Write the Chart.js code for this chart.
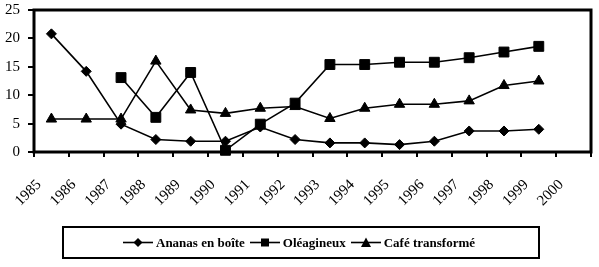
<!DOCTYPE html>
<html>
<head>
<meta charset="utf-8">
<script src="https://cdn.jsdelivr.net/npm/chart.js@4"></script>
<style>
  body { margin: 0; background: #fff; }
  #wrap { position: relative; width: 599px; height: 267px; }
  #legende {
    position: absolute; left: 62px; top: 226px; width: 415px; height: 29px;
    border: 2px solid #000; display: flex; align-items: center; justify-content: flex-start;
    font: bold 13px 'Liberation Serif', serif; color: #000; padding-left: 59px; box-sizing: content-box;
  }
  #legende span { display: inline-flex; align-items: center; margin-right: 5px; }
  #legende svg { margin-right: 3px; }
</style>
</head>
<body>
<div id="wrap">
  <canvas id="graphique" width="599" height="267"></canvas>
  <div id="legende"></div>
</div>
<script>
// années affichées sous l'axe (graduations)
const annees = ['1985', '1986', '1987', '1988', '1989', '1990', '1991', '1992', '1993', '1994', '1995', '1996', '1997', '1998', '1999', '2000']

// valeurs, une par année 1985..1999
const ananas = [20.8, 14.2, 4.9, 2.2, 1.9, 1.9, 4.4, 2.2, 1.6, 1.6, 1.3, 1.9, 3.7, 3.7, 4.0]
const oleagineux = [null, null, 13.1, 6.1, 14.0, 0.3, 4.9, 8.6, 15.4, 15.4, 15.8, 15.8, 16.6, 17.6, 18.6]
const cafe = [5.8, 5.8, 5.8, 16.0, 7.4, 6.8, 7.7, 8.0, 5.9, 7.7, 8.4, 8.4, 9.0, 11.7, 12.5]

const police = "'Liberation Serif', 'Times New Roman', serif"

// chaque point se place au milieu de l'intervalle de son année
const enPoints = serie => serie.map((v, i) => ({ x: i + 0.5, y: v }))

const serie = (label, valeurs, style, rayon) => ({
  label,
  data: enPoints(valeurs),
  borderColor: '#000',
  backgroundColor: '#000',
  borderWidth: 1.6,
  pointStyle: style,
  pointRadius: rayon,
  pointBorderWidth: 1,
  tension: 0,
  spanGaps: false,
  clip: false,
})

// cadre noir autour de la zone de tracé
const cadre = {
  id: 'cadre',
  beforeDatasetsDraw(chart) {
    const { ctx, chartArea: a } = chart
    ctx.save()
    ctx.strokeStyle = '#000'
    ctx.lineWidth = 3
    ctx.strokeRect(a.left, a.top, a.right - a.left, a.bottom - a.top)
    ctx.restore()
  },
}

new Chart(document.getElementById('graphique').getContext('2d'), {
  type: 'line',
  data: {
    datasets: [
      serie('Ananas en boîte', ananas, 'rectRot', 5),
      serie('Oléagineux', oleagineux, 'rect', 7),
      serie('Café transformé', cafe, 'triangle', 6),
    ],
  },
  options: {
    responsive: false,
    animation: false,
    layout: { padding: { left: 0, right: 6, top: 10, bottom: 50 } },
    plugins: { legend: { display: false }, tooltip: { enabled: false } },
    scales: {
      x: {
        type: 'linear',
        min: 0,
        max: 16,
        // hauteur fixe, assez grande pour ne pas couper les années inclinées
        afterFit: s => { s.height = 65; s.paddingLeft = 0; s.paddingRight = 0 },
        border: { display: false },
        grid: { drawOnChartArea: false, drawTicks: true, tickLength: 5, color: '#000', lineWidth: 2 },
        ticks: {
          stepSize: 1,
          autoSkip: false,
          maxRotation: 45,
          minRotation: 45,
          padding: 19,
          labelOffset: 5,
          color: '#000',
          font: { family: police, size: 15 },
          callback: v => annees[v] || '',
        },
      },
      y: {
        min: 0,
        max: 25,
        afterFit: s => { s.width = 34; s.paddingTop = 0; s.paddingBottom = 0 },
        border: { display: false },
        grid: { drawOnChartArea: false, drawTicks: true, tickLength: 6, color: '#000', lineWidth: 2 },
        ticks: {
          stepSize: 5,
          padding: 8,
          color: '#000',
          font: { family: police, size: 15 },
        },
      },
    },
  },
  plugins: [cadre],
})

// légende : trait - symbole - trait
const symboles = {
  rectRot: '<polygon points="15,1 19.5,5.5 15,10 10.5,5.5"/>',
  rect: '<rect x="11" y="1.5" width="8" height="8"/>',
  triangle: '<polygon points="15,0.5 20,10 10,10"/>',
}
const legende = document.getElementById('legende')
;[['Ananas en boîte', 'rectRot'], ['Oléagineux', 'rect'], ['Café transformé', 'triangle']].forEach(([nom, style]) => {
  const item = document.createElement('span')
  item.innerHTML = `<svg width="30" height="11"><line x1="0" y1="5.5" x2="30" y2="5.5" stroke="#000" stroke-width="1.6"/><g fill="#000">${symboles[style]}</g></svg>${nom}`
  legende.appendChild(item)
})
</script>
</body>
</html>
